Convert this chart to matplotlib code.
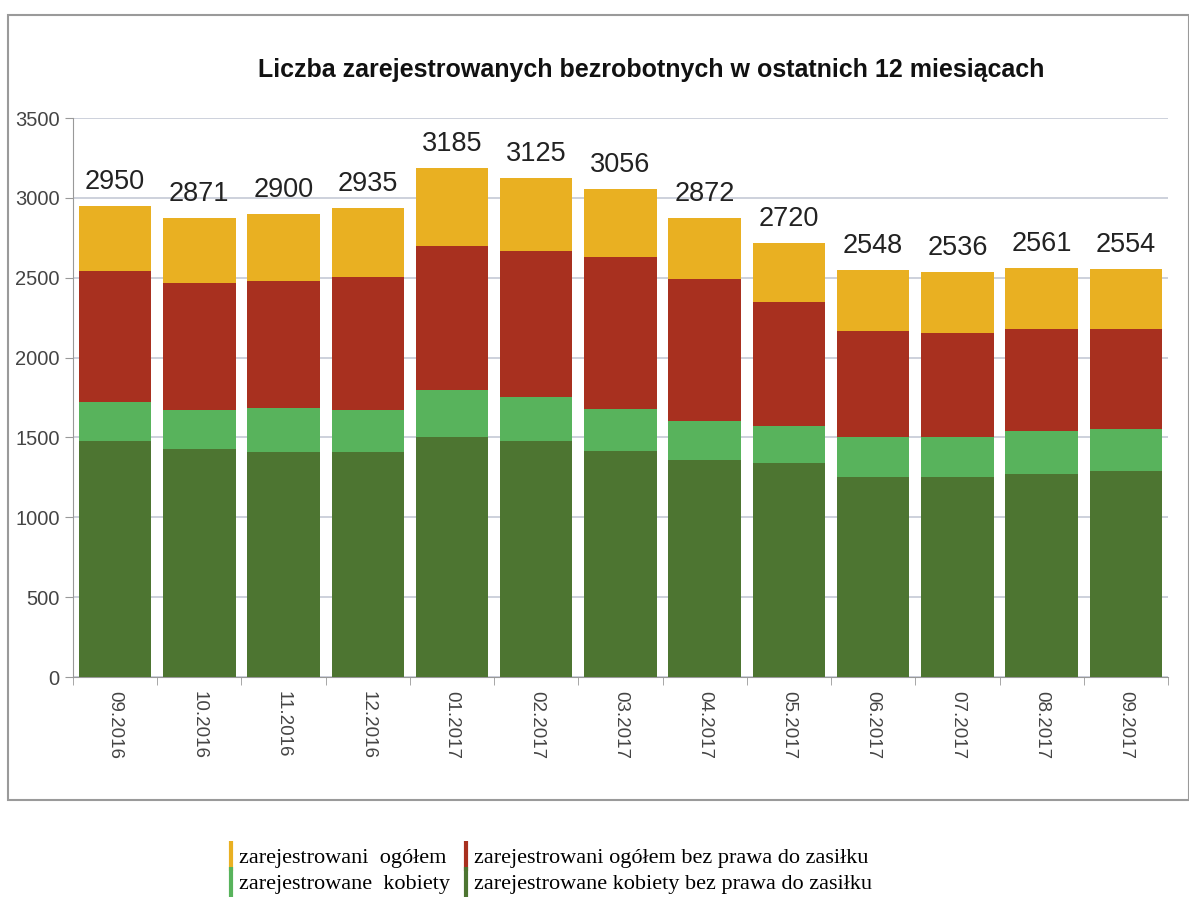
import numpy as np
import matplotlib.pyplot as plt
from matplotlib.patches import Rectangle
from matplotlib.lines import Line2D

plt.rcParams['font.family'] = ['Liberation Sans', 'DejaVu Sans']

# ================= Data =================
months = ['09.2016', '10.2016', '11.2016', '12.2016', '01.2017', '02.2017', '03.2017',
          '04.2017', '05.2017', '06.2017', '07.2017', '08.2017', '09.2017']
total = [2950, 2871, 2900, 2935, 3185, 3125, 3056, 2872, 2720, 2548, 2536, 2561, 2554]
total_no_benefit = [2545, 2470, 2478, 2507, 2699, 2670, 2631, 2494, 2349, 2169, 2154, 2181, 2181]
women = [1720, 1672, 1684, 1672, 1800, 1752, 1680, 1602, 1571, 1506, 1506, 1542, 1552]
women_no_benefit = [1479, 1426, 1412, 1407, 1501, 1477, 1414, 1361, 1337, 1253, 1253, 1270, 1287]

labels = ['zarejestrowani  ogółem', 'zarejestrowane  kobiety',
          'zarejestrowani ogółem bez prawa do zasiłku',
          'zarejestrowane kobiety bez prawa do zasiłku']

c_total = '#E9B022'
c_red = '#A8301F'
c_lgreen = '#58B35C'
c_dgreen = '#4D7531'

# ================= Figure =================
fig = plt.figure(figsize=(11.89, 8.99), dpi=100)
ax = fig.add_axes([0.0614, 0.2469, 0.9209, 0.6218])

x = np.arange(len(months))
w = 0.86
ax.bar(x, total, width=w, color=c_total, zorder=2)
ax.bar(x, total_no_benefit, width=w, color=c_red, zorder=3)
ax.bar(x, women, width=w, color=c_lgreen, zorder=4)
ax.bar(x, women_no_benefit, width=w, color=c_dgreen, zorder=5)

for xi, v in zip(x, total):
    ax.annotate(f'{v}', xy=(xi, v), xytext=(0, 8), textcoords='offset points',
                ha='center', va='bottom', fontsize=19.5, color='#222222')

ax.set_xlim(-0.5, len(months) - 0.5)
ax.set_ylim(0, 3500)
ax.set_yticks(np.arange(0, 3501, 500))
ax.yaxis.grid(True, color='#C5CAD6', linewidth=1.2, zorder=0)
ax.set_axisbelow(True)

ax.set_xticks(x)
ax.set_xticklabels(months, rotation=270, fontsize=13.5, color='#444444')
ax.set_xticks(np.arange(-0.5, len(months)), minor=True)
ax.tick_params(axis='x', which='major', length=0, pad=10)
ax.tick_params(axis='x', which='minor', length=6, color='#999999')
ax.tick_params(axis='y', length=6, color='#999999', labelsize=14.5, labelcolor='#444444')

for s in ['top', 'right']:
    ax.spines[s].set_visible(False)
for s in ['left', 'bottom']:
    ax.spines[s].set_color('#999999')

fig.text(0.548, 0.922, 'Liczba zarejestrowanych bezrobotnych w ostatnich 12 miesiącach',
         ha='center', va='center', fontsize=18, fontweight='bold', color='#111111')

# frame around the chart area
fig.add_artist(Rectangle((0.007, 0.11), 0.993, 0.873, transform=fig.transFigure,
                         fill=False, edgecolor='#9A9A9A', linewidth=1.5))

# legend below the frame
handles = [Line2D([], [], color=c, marker='|', linestyle='none', markersize=22,
                  markeredgewidth=3)
           for c in [c_total, c_lgreen, c_red, c_dgreen]]
fig.legend(handles, labels, loc='center', bbox_to_anchor=(0.462, 0.031), ncol=2,
           frameon=False, handlelength=0.4, handletextpad=0.15, columnspacing=0.5,
           labelspacing=0.25, prop={'family': 'Liberation Serif', 'size': 16})

fig.savefig('out.png', dpi=100)
